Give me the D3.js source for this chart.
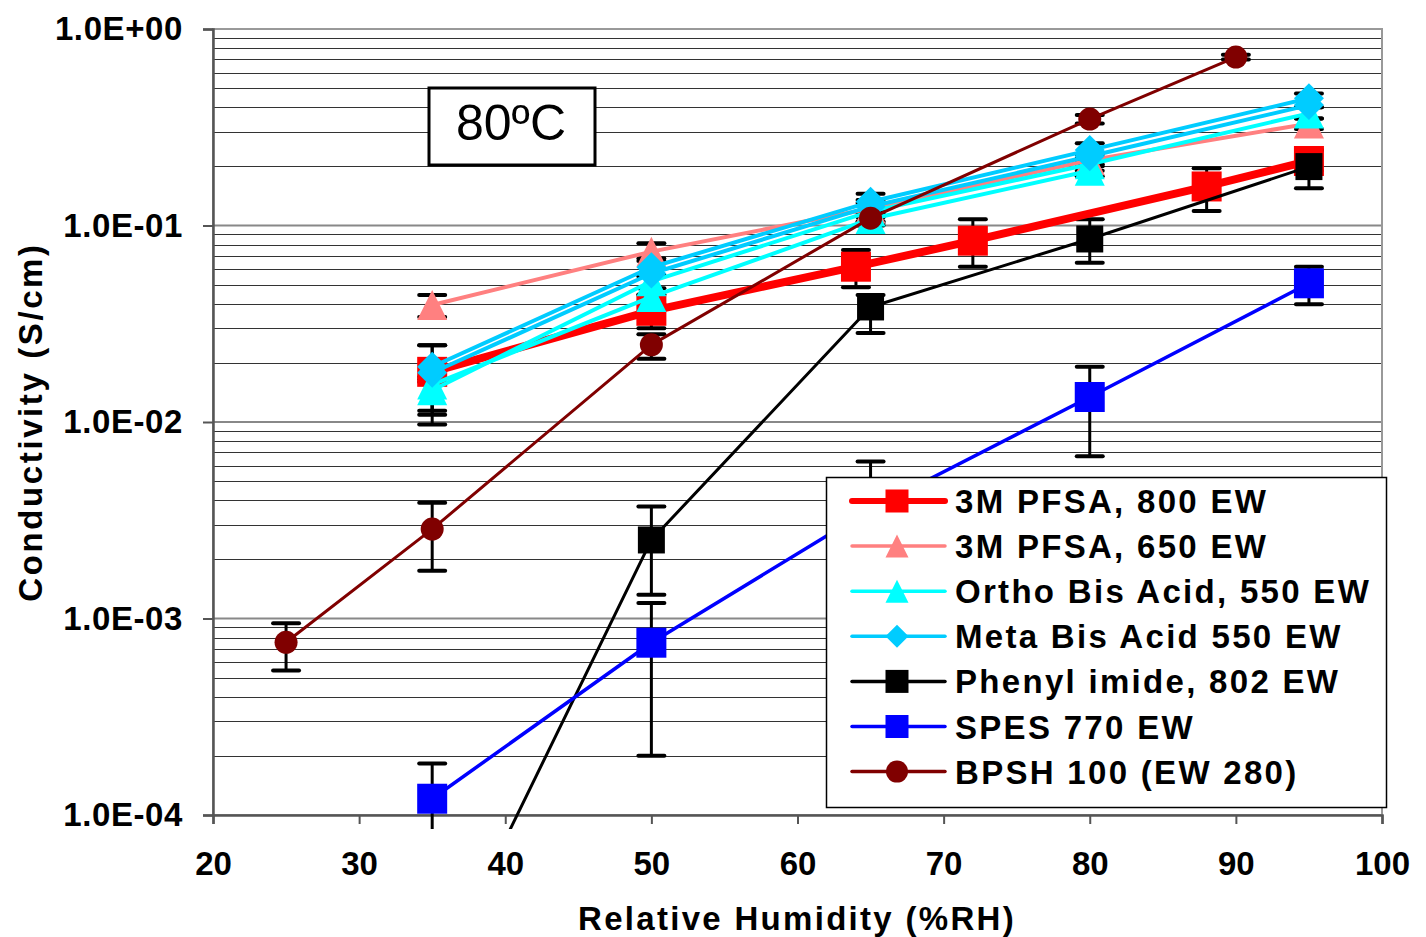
<!DOCTYPE html>
<html>
<head>
<meta charset="utf-8">
<script src="https://cdn.jsdelivr.net/npm/d3@7"></script>
<style>
  body { margin: 0; background: #fff; }
  svg text { font-family: "Liberation Sans", Arial, sans-serif; }
</style>
</head>
<body>
<svg id="chart" width="1426" height="937"></svg>
<script>
// ---- data ----
var rh800 = [35, 50, 64, 72, 88, 95];
var pfsa800 = [0.0180, 0.0368, 0.0617, 0.0837, 0.158, 0.213];
var pfsa800Lo = [0.0097, 0.030, 0.0485, 0.0617, 0.1185, 0.19];
var pfsa800Hi = [0.0246, 0.0443, 0.075, 0.1075, 0.1954, 0.242];

var rh = [35, 50, 65, 80, 95];
var pfsa650 = [0.0394, 0.0736, 0.122, 0.215, 0.33];
var pfsa650Lo = [0.0342, 0.066, 0.11, 0.2, 0.31];
var pfsa650Hi = [0.0443, 0.0812, 0.135, 0.23, 0.35];

var orthoA = [0.0145, 0.052, 0.118, 0.205, 0.372];
var orthoALo = [0.0114, 0.0445, 0.105, 0.19, 0.35];
var orthoAHi = [0.016, 0.056, 0.13, 0.22, 0.40];
var rhOrthoB = [35, 50, 65, 80];
var orthoB = [0.0155, 0.0433, 0.108, 0.19];
var orthoBLo = [0.0109, 0.040, 0.10, 0.178];
var orthoBHi = [0.017, 0.048, 0.118, 0.205];

var metaA = [0.0191, 0.0613, 0.132, 0.242, 0.444];
var metaALo = [0.0165, 0.055, 0.118, 0.215, 0.40];
var metaAHi = [0.0246, 0.068, 0.145, 0.262, 0.47];
var metaB = [0.0178, 0.057, 0.125, 0.225, 0.41];

var phenyl = [0.000013, 0.00251, 0.0385, 0.0854, 0.1994];
var phenylLo = [null, 0.00132, 0.0284, 0.0647, 0.1546];
var phenylHi = [null, 0.00371, 0.0443, 0.1075, 0.242];

var spes = [0.000121, 0.000753, 0.0036, 0.0134, 0.0508];
var spesLo = [0.00005, 0.0002, 0.002, 0.0067, 0.0397];
var spesHi = [0.000183, 0.0012, 0.0063, 0.0191, 0.0617];

var rhBpsh = [25, 35, 50, 65, 80, 90];
var bpsh = [0.000757, 0.00285, 0.0247, 0.109, 0.348, 0.72];
var bpshLo = [0.000543, 0.00175, 0.021, 0.103, 0.33, 0.70];
var bpshHi = [0.000945, 0.00388, 0.028, 0.115, 0.365, 0.74];

var xTicks = [20, 30, 40, 50, 60, 70, 80, 90, 100];
var yTicks = [1e-4, 1e-3, 1e-2, 1e-1, 1];
var yTickLabels = ["1.0E-04", "1.0E-03", "1.0E-02", "1.0E-01", "1.0E+00"];

// series: label (null = not in legend), x, y, err, style
var series = [
  {label: "3M PFSA, 800 EW", x: rh800, y: pfsa800, lo: pfsa800Lo, hi: pfsa800Hi, color: "#ff0000", width: 8, marker: "square", size: 30},
  {label: "3M PFSA, 650 EW", x: rh, y: pfsa650, lo: pfsa650Lo, hi: pfsa650Hi, color: "#ff8080", width: 4, marker: "triangle", size: 30},
  {label: "Ortho Bis Acid, 550 EW", x: rh, y: orthoA, lo: orthoALo, hi: orthoAHi, color: "#00ffff", width: 4, marker: "triangle", size: 30},
  {label: null, x: rhOrthoB, y: orthoB, lo: orthoBLo, hi: orthoBHi, color: "#00ffff", width: 4, marker: "triangle", size: 30},
  {label: null, x: rh, y: metaB, lo: null, hi: null, color: "#00ccff", width: 4, marker: "diamond", size: 30},
  {label: "Meta Bis Acid 550 EW", x: rh, y: metaA, lo: metaALo, hi: metaAHi, color: "#00ccff", width: 4, marker: "diamond", size: 30},
  {label: "Phenyl imide, 802 EW", x: rh, y: phenyl, lo: phenylLo, hi: phenylHi, color: "#000000", width: 3, marker: "square", size: 27},
  {label: "SPES 770 EW", x: rh, y: spes, lo: spesLo, hi: spesHi, color: "#0000ff", width: 3.5, marker: "square", size: 30},
  {label: "BPSH 100 (EW 280)", x: rhBpsh, y: bpsh, lo: bpshLo, hi: bpshHi, color: "#800000", width: 3, marker: "circle", size: 23}
];

var plot = {left: 213, right: 1382, top: 29, bottom: 815};

var svg = d3.select("#chart");
var x = d3.scaleLinear().domain([20, 100]).range([plot.left, plot.right]);
var y = d3.scaleLog().domain([1e-4, 1]).range([plot.bottom, plot.top]);

// clip: Excel lets lines run a little below the axis
svg.append("clipPath").attr("id", "clip")
  .append("rect")
  .attr("x", plot.left).attr("y", plot.top)
  .attr("width", plot.right - plot.left).attr("height", plot.bottom - plot.top + 14);

// ---- gridlines ----
var minor = [];
yTicks.slice(0, 4).forEach(function (d) {
  for (var k = 2; k <= 9; k++) minor.push(d * k);
});
svg.append("g").selectAll("line.minor").data(minor).enter().append("line")
  .attr("x1", plot.left).attr("x2", plot.right)
  .attr("y1", function (d) { return Math.round(y(d)) + 0.5; })
  .attr("y2", function (d) { return Math.round(y(d)) + 0.5; })
  .attr("stroke", "#333").attr("stroke-width", 1);
svg.append("g").selectAll("line.major").data(yTicks).enter().append("line")
  .attr("x1", plot.left).attr("x2", plot.right)
  .attr("y1", function (d) { return y(d); })
  .attr("y2", function (d) { return y(d); })
  .attr("stroke", "#888").attr("stroke-width", 2);

// frame (top and right in gray)
svg.append("rect")
  .attr("x", plot.left).attr("y", plot.top)
  .attr("width", plot.right - plot.left).attr("height", plot.bottom - plot.top)
  .attr("fill", "none").attr("stroke", "#999").attr("stroke-width", 2);

// ---- axes ----
var xAxis = d3.axisBottom(x).tickValues(xTicks).tickSize(9).tickFormat(d3.format("d"));
var gx = svg.append("g").attr("transform", "translate(0," + plot.bottom + ")").call(xAxis);
gx.select(".domain").attr("stroke", "#555").attr("stroke-width", 2.5);
gx.selectAll(".tick line").attr("stroke", "#555").attr("stroke-width", 2);
gx.selectAll(".tick text")
  .attr("y", 37).attr("dy", "0.71em")
  .attr("font-size", 33).attr("font-weight", "bold").attr("fill", "#000")
  .style("font-family", "Liberation Sans, Arial, sans-serif");

var yAxis = d3.axisLeft(y).tickValues(yTicks).tickSize(10)
  .tickFormat(function (d, i) { return yTickLabels[i]; });
var gy = svg.append("g").attr("transform", "translate(" + plot.left + ",0)").call(yAxis);
gy.select(".domain").attr("stroke", "#555").attr("stroke-width", 2.5);
gy.selectAll(".tick line").attr("stroke", "#555").attr("stroke-width", 2);
gy.selectAll(".tick text")
  .attr("x", -30)
  .attr("font-size", 33).attr("font-weight", "bold").attr("fill", "#000")
  .style("letter-spacing", "0.6px")
  .style("font-family", "Liberation Sans, Arial, sans-serif");

// axis titles
svg.append("text")
  .attr("x", 797).attr("y", 930)
  .attr("text-anchor", "middle").attr("font-size", 33).attr("font-weight", "bold")
  .style("letter-spacing", "2.3px")
  .text("Relative Humidity (%RH)");
svg.append("text")
  .attr("transform", "translate(42,422) rotate(-90)")
  .attr("text-anchor", "middle").attr("font-size", 33).attr("font-weight", "bold")
  .style("letter-spacing", "2.6px")
  .text("Conductivity (S/cm)");

// ---- marker shapes ----
function markerPath(type, s) {
  var h = s / 2;
  if (type === "square") return "M" + (-h) + "," + (-h) + "h" + s + "v" + s + "h" + (-s) + "Z";
  if (type === "triangle") return "M0," + (-h) + "L" + h + "," + h + "L" + (-h) + "," + h + "Z";
  if (type === "diamond") return "M0," + (-h) + "L" + h + ",0L0," + h + "L" + (-h) + ",0Z";
  return d3.arc()({innerRadius: 0, outerRadius: h, startAngle: 0, endAngle: 2 * Math.PI});
}

var plotG = svg.append("g").attr("clip-path", "url(#clip)");

// ---- error bars (drawn below the series) ----
var errG = plotG.append("g");
series.forEach(function (s) {
  if (!s.lo) return;
  s.x.forEach(function (xv, i) {
    if (s.lo[i] == null) return;
    var cx = x(xv), y1 = y(s.hi[i]), y0 = y(s.lo[i]);
    errG.append("line").attr("x1", cx).attr("x2", cx).attr("y1", y1).attr("y2", y0)
      .attr("stroke", "#000").attr("stroke-width", 3);
    [y1, y0].forEach(function (yy) {
      errG.append("line").attr("x1", cx - 13).attr("x2", cx + 13).attr("y1", yy).attr("y2", yy)
        .attr("stroke", "#000").attr("stroke-width", 4).attr("stroke-linecap", "round");
    });
  });
});

// ---- lines and markers ----
var line = d3.line()
  .x(function (d) { return x(d[0]); })
  .y(function (d) { return y(d[1]); });

series.forEach(function (s) {
  var pts = s.x.map(function (xv, i) { return [xv, s.y[i]]; });
  var g = plotG.append("g");
  g.append("path").datum(pts).attr("d", line)
    .attr("fill", "none").attr("stroke", s.color).attr("stroke-width", s.width)
    .attr("stroke-linejoin", "round");
  g.selectAll("path.mk").data(pts.filter(function (p) { return p[1] >= 1e-4; })).enter()
    .append("path").attr("class", "mk")
    .attr("d", markerPath(s.marker, s.size))
    .attr("transform", function (d) { return "translate(" + x(d[0]) + "," + y(d[1]) + ")"; })
    .attr("fill", s.color);
});

// ---- temperature label ----
svg.append("rect").attr("x", 429).attr("y", 88).attr("width", 166).attr("height", 77)
  .attr("fill", "#fff").attr("stroke", "#000").attr("stroke-width", 3);
svg.append("text").attr("x", 511).attr("y", 140).attr("text-anchor", "middle")
  .attr("font-size", 50).text("80ºC");

// ---- legend ----
var legendItems = series.filter(function (s) { return s.label; });
var lg = svg.append("g");
lg.append("rect").attr("x", 826.5).attr("y", 477.5).attr("width", 560).attr("height", 330)
  .attr("fill", "#fff").attr("stroke", "#000").attr("stroke-width", 1.5);
legendItems.forEach(function (s, i) {
  var yy = 501 + i * 45.1;
  lg.append("line").attr("x1", 852).attr("x2", 945).attr("y1", yy).attr("y2", yy)
    .attr("stroke", s.color).attr("stroke-width", i === 0 ? 6 : 3.5)
    .attr("stroke-linecap", "round");
  lg.append("path").attr("d", markerPath(s.marker, s.marker === "circle" ? 22 : 23))
    .attr("transform", "translate(897," + yy + ")").attr("fill", s.color);
  lg.append("text").attr("x", 955).attr("y", yy + 12)
    .attr("font-size", 33).attr("font-weight", "bold")
    .style("letter-spacing", "2.3px")
    .text(s.label);
});
</script>
</body>
</html>
